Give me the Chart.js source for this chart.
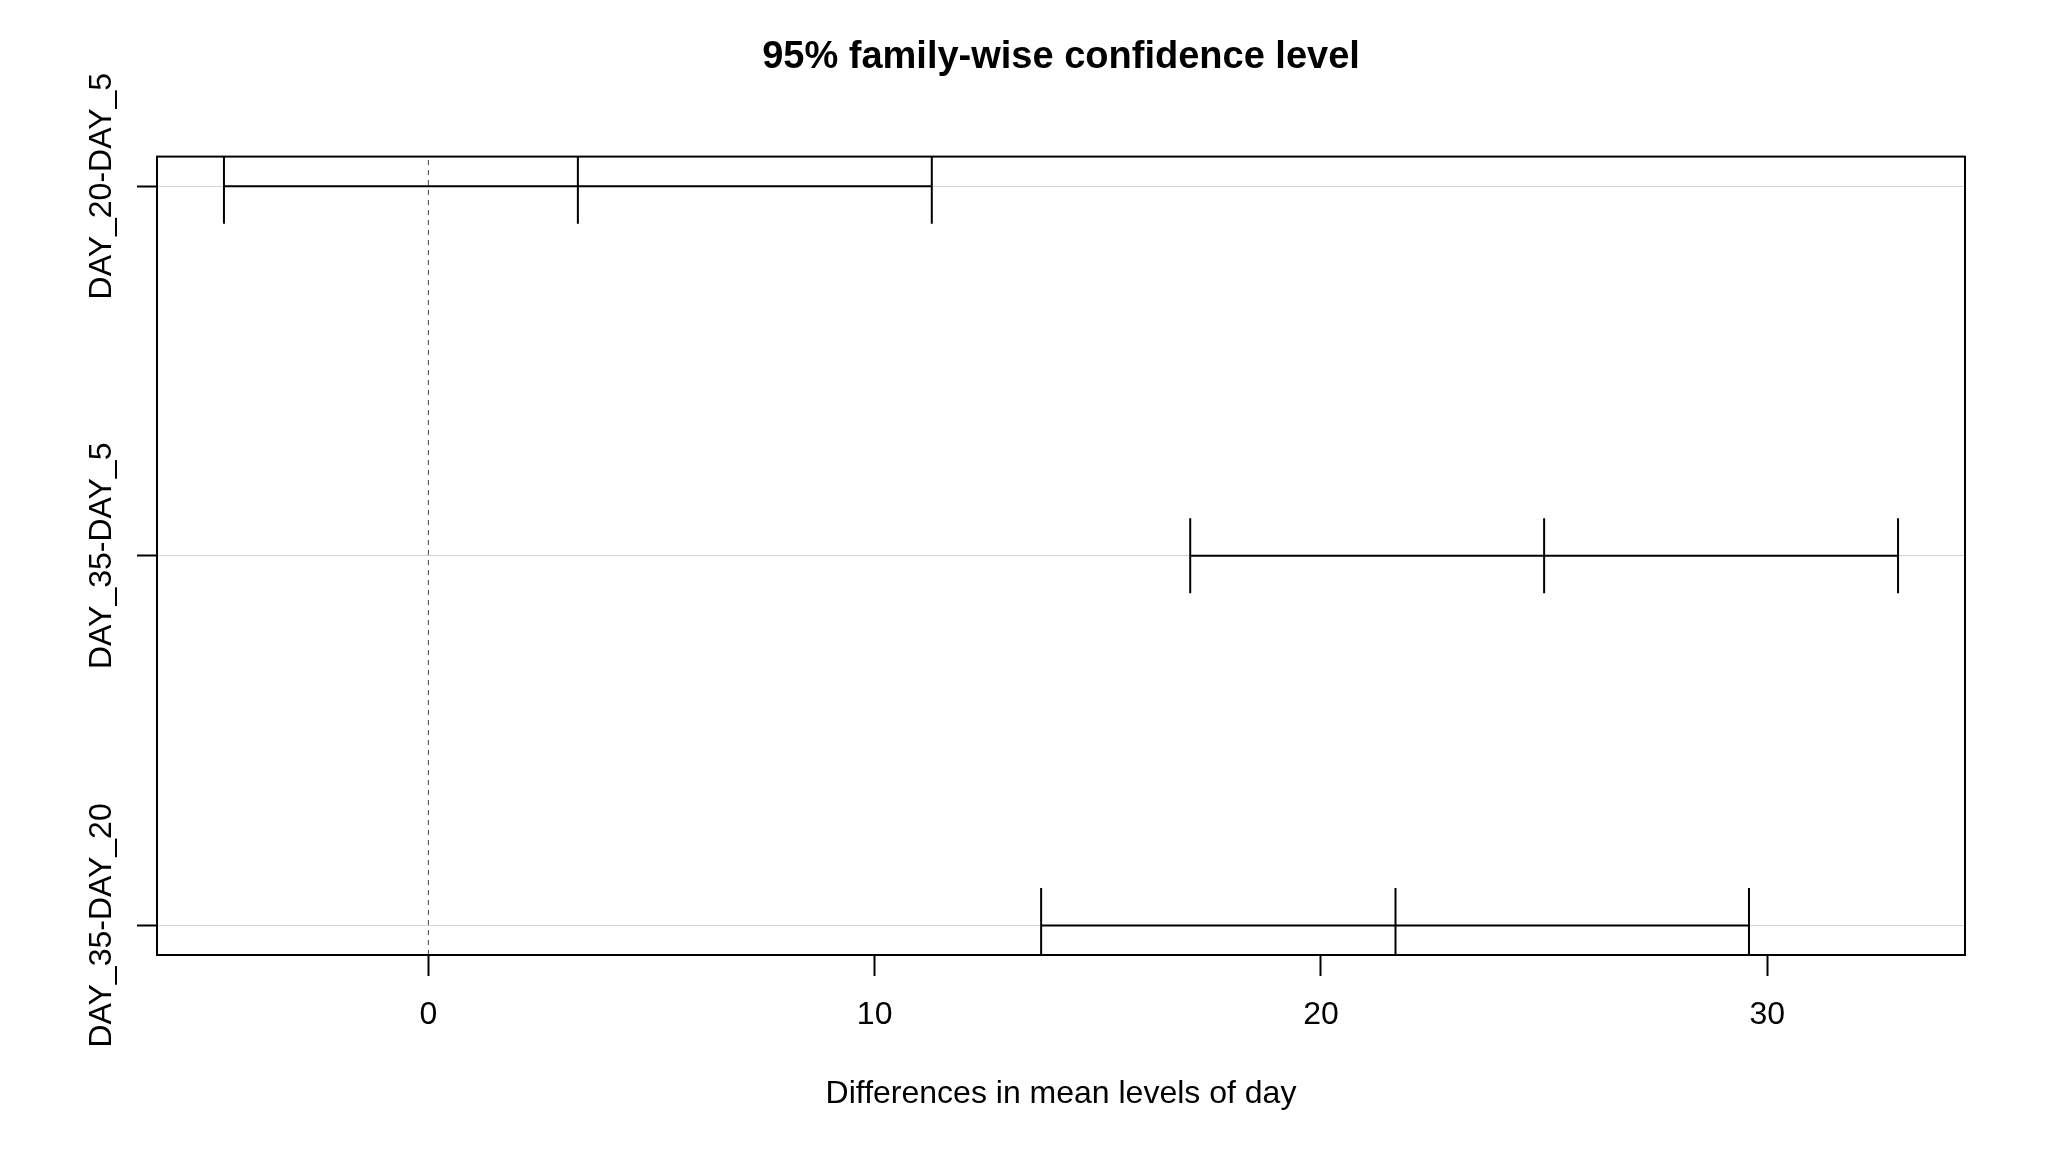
<!DOCTYPE html>
<html>
<head>
<meta charset="utf-8">
<title>95% family-wise confidence level</title>
<script src="https://cdn.jsdelivr.net/npm/chart.js@4"></script>
<style>
  html, body { margin: 0; padding: 0; background: #fff; }
  #wrap { width: 2047px; height: 1152px; }
</style>
</head>
<body>
<div id="wrap"><canvas id="chart"></canvas></div>
<script>
// Tukey HSD intervals
const comparisons = ['DAY_20-DAY_5', 'DAY_35-DAY_5', 'DAY_35-DAY_20']
const diffs = [3.35, 25.0, 21.67]
const lowers = [-4.58, 17.07, 13.73]
const uppers = [11.28, 32.93, 29.59]
const xTicks = [0, 10, 20, 30]

const FONT = "'Liberation Sans', Arial, sans-serif"

// rows go top to bottom: first comparison sits at the highest y
const rowY = comparisons.map((_, i) => comparisons.length - i)

// R pads axis ranges by 4% on each side
const xMin = Math.min(...lowers)
const xMax = Math.max(...uppers)
const xPad = (xMax - xMin) * 0.04
const yPad = (comparisons.length - 1) * 0.04

const intervalSets = comparisons.map((name, i) => ({
  label: name,
  data: [
    { x: lowers[i], y: rowY[i] },
    { x: diffs[i], y: rowY[i] },
    { x: uppers[i], y: rowY[i] }
  ],
  showLine: true,
  borderColor: '#000',
  borderWidth: 2,
  pointStyle: 'line',
  rotation: 90,
  pointRadius: 37.5,
  pointBorderWidth: 2,
  pointBorderColor: '#000'
}))

const zeroLine = {
  label: 'zero',
  data: [{ x: 0, y: 1 - yPad }, { x: 0, y: comparisons.length + yPad }],
  showLine: true,
  borderColor: '#444',
  borderWidth: 1,
  borderDash: [5, 5],
  pointRadius: 0
}

const frame = {
  id: 'frame',
  afterDraw (chart) {
    const { ctx, chartArea: a } = chart
    ctx.save()
    ctx.strokeStyle = '#000'
    ctx.lineWidth = 2
    ctx.strokeRect(a.left, a.top, a.right - a.left, a.bottom - a.top)

    // vertical comparison labels, centred on their rows
    const y = chart.scales.y
    ctx.fillStyle = '#000'
    ctx.font = '32px ' + FONT
    ctx.textAlign = 'center'
    ctx.textBaseline = 'middle'
    comparisons.forEach((name, i) => {
      ctx.save()
      ctx.translate(102, y.getPixelForValue(rowY[i]))
      ctx.rotate(-Math.PI / 2)
      ctx.fillText(name, 0, 0)
      ctx.restore()
    })
    ctx.restore()
  }
}

new Chart(document.getElementById('chart').getContext('2d'), {
  type: 'scatter',
  data: { datasets: [zeroLine, ...intervalSets] },
  options: {
    responsive: true,
    maintainAspectRatio: false,
    animation: false,
    layout: { padding: { top: 0, right: 82, bottom: 0, left: 0 } },
    plugins: {
      legend: { display: false },
      tooltip: { enabled: false },
      title: {
        display: true,
        text: '95% family-wise confidence level',
        fullSize: false,
        color: '#000',
        font: { family: FONT, size: 38, weight: 'bold' },
        padding: { top: 35, bottom: 76 }
      }
    },
    scales: {
      x: {
        type: 'linear',
        min: xMin - xPad,
        max: xMax + xPad,
        afterBuildTicks (scale) {
          scale.ticks = xTicks.map(v => ({ value: v }))
        },
        afterFit (scale) { scale.height = 197 },
        border: { display: false },
        grid: {
          drawOnChartArea: false,
          drawTicks: true,
          tickLength: 21,
          tickColor: '#000',
          tickWidth: 2
        },
        ticks: {
          color: '#000',
          font: { family: FONT, size: 32 },
          padding: 20,
          maxRotation: 0
        },
        title: {
          display: true,
          text: 'Differences in mean levels of day',
          color: '#000',
          font: { family: FONT, size: 32 },
          padding: { top: 0, bottom: 39 }
        }
      },
      y: {
        type: 'linear',
        min: 1 - yPad,
        max: comparisons.length + yPad,
        afterBuildTicks (scale) {
          scale.ticks = rowY.map(v => ({ value: v }))
        },
        afterFit (scale) { scale.width = 157 },
        border: { display: false },
        grid: {
          color: '#d3d3d3',
          lineWidth: 1,
          drawTicks: true,
          tickLength: 20,
          tickColor: '#000',
          tickWidth: 2
        },
        ticks: { display: false }
      }
    }
  },
  plugins: [frame]
})
</script>
</body>
</html>
